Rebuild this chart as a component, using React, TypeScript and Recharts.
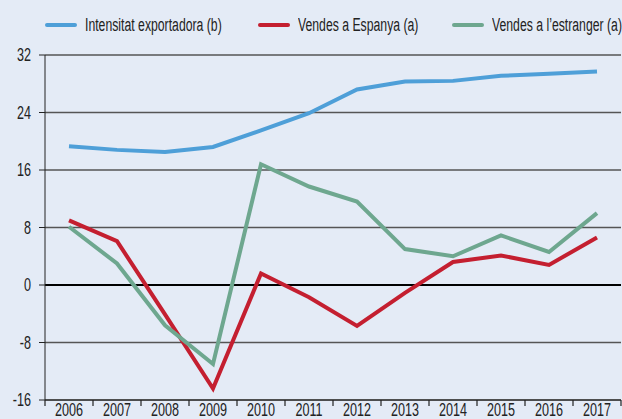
import React from 'react'
import { LineChart, Line, XAxis, YAxis, CartesianGrid, ReferenceLine } from 'recharts'

const years = ['2006', '2007', '2008', '2009', '2010', '2011', '2012', '2013', '2014', '2015', '2016', '2017']
const intensitat = [19.3, 18.8, 18.5, 19.2, 21.5, 23.9, 27.2, 28.3, 28.4, 29.1, 29.4, 29.7]
const vendesEspanya = [9.0, 6.1, -4.1, -14.4, 1.6, -1.7, -5.7, -1.1, 3.2, 4.1, 2.8, 6.6]
const vendesEstranger = [8.1, 3.0, -5.6, -11.0, 16.8, 13.7, 11.6, 5.0, 4.0, 6.9, 4.6, 10.0]
const yTicks = [-16, -8, 0, 8, 16, 24, 32]

const series = [
    { key: 'intensitat', name: 'Intensitat exportadora (b)', color: '#4e9fd8', left: 45 },
    { key: 'espanya', name: 'Vendes a Espanya (a)', color: '#c41f30', left: 258 },
    { key: 'estranger', name: "Vendes a l\u2019estranger (a)", color: '#6ea78f', left: 452 },
]

const data = years.map((y, i) => ({
    year: y,
    intensitat: intensitat[i],
    espanya: vendesEspanya[i],
    estranger: vendesEstranger[i],
}))

const font = '"Liberation Sans", Arial, sans-serif'
const squeeze = 0.7

const YTick = (props: any) => {
    const { x, y, payload } = props
    return (
        <text
            transform={`translate(${x},${y}) scale(${squeeze},1)`}
            textAnchor="end"
            dy="0.36em"
            fill="#222"
            fontSize={18}
            fontFamily={font}
        >
            {payload.value}
        </text>
    )
}

const XTick = (props: any) => {
    const { x, y, payload, index } = props
    const half = payload.offset || 24
    const last = index === years.length - 1
    return (
        <g>
            <line x1={x - half} x2={x - half} y1={y} y2={y + 6} stroke="#222" strokeWidth={1.2} />
            {last && <line x1={x + half} x2={x + half} y1={y} y2={y + 6} stroke="#222" strokeWidth={1.2} />}
            <text
                transform={`translate(${x},${y}) scale(${squeeze},1)`}
                textAnchor="middle"
                dy={16.5}
                fill="#222"
                fontSize={18}
                fontFamily={font}
            >
                {payload.value}
            </text>
        </g>
    )
}

const LegendBox = () => (
    <>
        {series.map((s) => (
            <div
                key={s.key}
                style={{ position: 'absolute', left: s.left, top: 14, height: 22, display: 'flex', alignItems: 'center', whiteSpace: 'nowrap' }}
            >
                <div style={{ width: 32, height: 4, borderRadius: 2, background: s.color, marginRight: 8 }} />
                <span
                    style={{
                        display: 'inline-block',
                        fontFamily: font,
                        fontSize: 18,
                        color: '#222',
                        transform: 'scaleX(0.68)',
                        transformOrigin: 'left center',
                    }}
                >
                    {s.name}
                </span>
            </div>
        ))}
    </>
)

export default function App() {
    return (
        <div style={{ position: 'absolute', left: 0, top: 0, width: 622, height: 419, background: '#e4ebf6', overflow: 'hidden' }}>
            <LegendBox />
            <div style={{ position: 'absolute', left: 0, top: 0 }}>
                <LineChart width={622} height={419} data={data} margin={{ top: 55, right: 1, bottom: 0, left: 0 }}>
                    <CartesianGrid horizontal vertical={false} stroke="#555" strokeWidth={1.5} />
                    <XAxis
                        dataKey="year"
                        type="category"
                        scale="band"
                        tickLine={false}
                        tickSize={0}
                        tickMargin={0}
                        height={19}
                        interval={0}
                        stroke="#222"
                        tick={<XTick />}
                    />
                    <YAxis
                        domain={[-16, 32]}
                        ticks={yTicks}
                        width={45}
                        tickSize={6}
                        tickMargin={8}
                        stroke="#222"
                        tick={<YTick />}
                    />
                    <YAxis yAxisId="right" orientation="right" width={0} tick={false} stroke="#222" />
                    <ReferenceLine y={0} stroke="#000" strokeWidth={2} />
                    {series.map((s) => (
                        <Line
                            key={s.key}
                            type="linear"
                            dataKey={s.key}
                            name={s.name}
                            stroke={s.color}
                            strokeWidth={4}
                            dot={false}
                            isAnimationActive={false}
                        />
                    ))}
                </LineChart>
            </div>
        </div>
    )
}
